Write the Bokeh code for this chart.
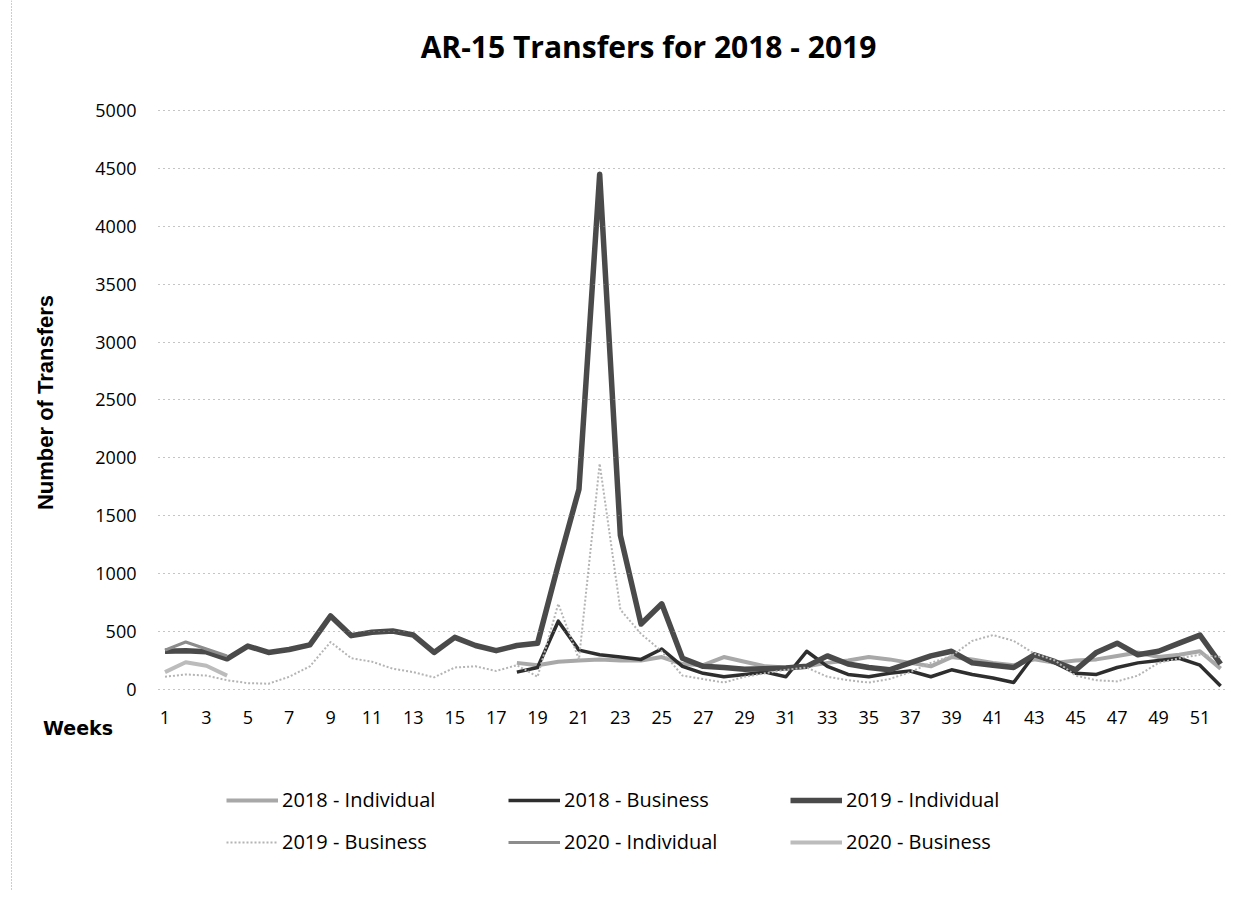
import math
from bokeh.plotting import figure
from bokeh.models import Legend, LegendItem, Label, FixedTicker, Range1d, Span
from bokeh.embed import file_html
from bokeh.resources import INLINE

weeks = list(range(1, 53))
x_ticks = list(range(1, 52, 2))
y_ticks = list(range(0, 5001, 500))

weeks_2018 = list(range(18, 53))
ind_2018 = [230, 210, 240, 250, 260, 250, 250, 280, 220, 210, 280, 240, 200, 190, 200, 230, 250, 280,
            260, 230, 200, 280, 260, 230, 210, 260, 230, 250, 260, 290, 320, 280, 300, 330, 180]
bus_2018 = [150, 190, 590, 340, 300, 280, 260, 350, 200, 140, 110, 130, 150, 110, 330, 200, 130, 110,
            140, 160, 110, 170, 130, 100, 60, 300, 230, 140, 130, 190, 230, 250, 270, 210, 30]

ind_2019 = [330, 335, 325, 265, 375, 320, 345, 385, 635, 465, 495, 505, 470, 320, 450, 380, 335, 380,
            400, 1080, 1730, 4450, 1330, 565, 740, 270, 200, 190, 175, 180, 185, 200, 290, 220, 190, 170,
            230, 290, 330, 230, 210, 190, 300, 240, 170, 320, 400, 300, 330, 400, 470, 220]
bus_2019 = [110, 130, 120, 80, 55, 50, 110, 200, 410, 270, 240, 180, 150, 105, 190, 200, 160, 210,
            110, 740, 260, 1950, 690, 480, 330, 120, 90, 60, 110, 140, 170, 190, 110, 80, 60, 90,
            150, 230, 290, 420, 470, 420, 310, 250, 120, 80, 70, 120, 230, 270, 300, 280]

weeks_2020 = [1, 2, 3, 4]
ind_2020 = [340, 410, 350, 290]
bus_2020 = [150, 235, 205, 120]

series = [
    ("2018 - Individual", weeks_2018, ind_2018, "#a8a8a8", 4, "solid"),
    ("2018 - Business", weeks_2018, bus_2018, "#2e2e2e", 3.5, "solid"),
    ("2019 - Individual", weeks, ind_2019, "#4a4a4a", 5.5, "solid"),
    ("2019 - Business", weeks, bus_2019, "#b4b4b4", 2, "2 2"),
    ("2020 - Individual", weeks_2020, ind_2020, "#8c8c8c", 3, "solid"),
    ("2020 - Business", weeks_2020, bus_2020, "#bcbcbc", 4, "solid"),
]

FONT = "Open Sans"
W, H = 1242, 890
PX_X = 20.699      # pixels per week
PX_Y = 0.11580     # pixels per transfer
X0 = -6.947        # week value at left canvas edge
Y1 = 5949.9        # value at top canvas edge
X_START, X_END = 0.686, 52.33   # plot-area extent in weeks


def dx(px):
    return X0 + px / PX_X


def dy(py):
    return Y1 - py / PX_Y


p = figure(width=W, height=H, output_backend="svg", toolbar_location=None,
           x_range=Range1d(X0, dx(W)), y_range=Range1d(dy(H), Y1),
           min_border_left=0, min_border_right=0, min_border_top=0, min_border_bottom=0)
p.outline_line_color = None
p.background_fill_color = "white"
p.border_fill_color = "white"
p.xgrid.grid_line_color = None
p.ygrid.grid_line_color = None

p.xaxis.ticker = FixedTicker(ticks=x_ticks)
p.yaxis.ticker = FixedTicker(ticks=y_ticks)
p.xaxis.fixed_location = 0
p.yaxis.fixed_location = X_START
for ax in (p.xaxis[0], p.yaxis[0]):
    ax.axis_line_color = None
    ax.minor_tick_line_color = None
    ax.major_label_text_font = FONT
    ax.major_label_text_font_size = "18px"
    ax.major_label_text_color = "#000000"
p.xaxis.major_tick_line_color = None
p.xaxis.major_label_standoff = 16
# horizontal dotted gridlines drawn as the y axis' inward ticks across the plot area
p.yaxis.major_tick_in = int(round((X_END - X_START) * PX_X))
p.yaxis.major_tick_out = 0
p.yaxis.major_tick_line_color = "#8a8a8a"
p.yaxis.major_tick_line_dash = "1 4"
p.yaxis.major_tick_line_width = 1
p.yaxis.major_label_standoff = 22

# chart-area border (left edge, dotted)
p.add_layout(Span(location=dx(11), dimension="height", line_color="#9a9a9a",
                  line_dash="1 2", line_width=1))

p.add_layout(Label(x=dx(648), y=dy(46), text="AR-15 Transfers for 2018 - 2019",
                   text_align="center", text_baseline="middle", text_font=FONT,
                   text_font_style="bold", text_font_size="30px", text_color="#000000"))
p.add_layout(Label(x=dx(45), y=dy(402), text="Number of Transfers", angle=math.pi / 2,
                   text_align="center", text_baseline="middle", text_font="Liberation Sans",
                   text_font_style="bold", text_font_size="22px", text_color="#000000"))
p.add_layout(Label(x=dx(77.5), y=dy(727), text="Weeks", text_align="center",
                   text_baseline="middle", text_font="DejaVu Sans", text_font_style="bold",
                   text_font_size="19px", text_color="#000000"))

renderers = []
for name, xs, ys, col, w, dash in series:
    r = p.line(xs, ys, line_color=col, line_width=w, line_dash=dash, line_join="round")
    renderers.append((name, r))

# legend entries: glyph left edge (px) and row centre (px)
leg_x = [226, 508, 790, 226, 508, 790]
leg_y = [801, 801, 801, 843, 843, 843]
for (name, r), lx, ly in zip(renderers, leg_x, leg_y):
    lg = Legend(items=[LegendItem(label=name, renderers=[r])], location=(lx, H - ly - 12),
                padding=0, margin=0, glyph_width=52, glyph_height=24, label_standoff=4,
                label_height=24, border_line_color=None, background_fill_alpha=0,
                label_text_font=FONT, label_text_font_size="20px", label_text_color="#000000")
    p.add_layout(lg, "center")

open("out.html", "w").write(file_html(p, INLINE))
